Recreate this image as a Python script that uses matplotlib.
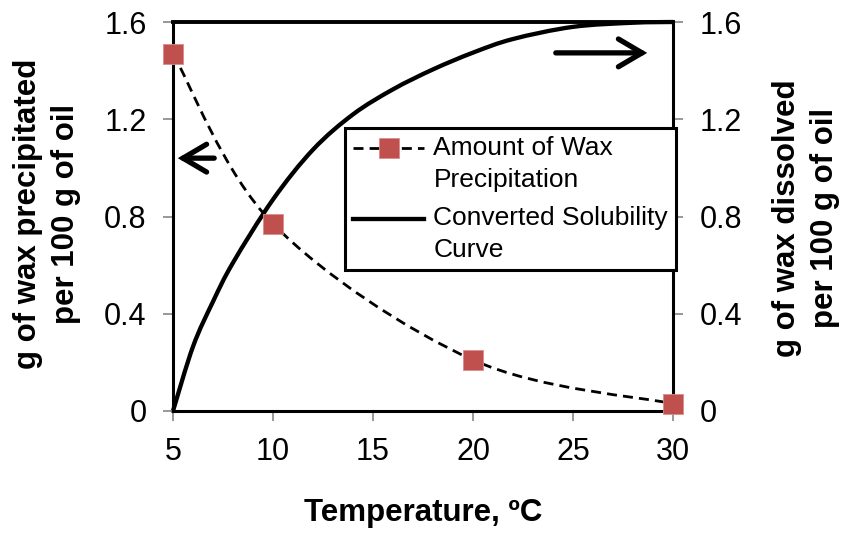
import matplotlib
matplotlib.use("Agg")
import matplotlib.pyplot as plt
from matplotlib.path import Path
from matplotlib.patches import PathPatch
from matplotlib.lines import Line2D
from matplotlib.legend_handler import HandlerLine2D

plt.rcParams['font.family'] = ['Liberation Sans', 'DejaVu Sans']

# Amount of wax precipitated (left axis)
temp_precip = [5, 10, 20, 30]
wax_precip = [1.47, 0.77, 0.21, 0.03]

# Converted solubility curve (right axis)
temp_sol = [5, 6, 7, 8, 10, 12, 14, 16, 18, 20, 22, 25, 28, 30]
wax_sol = [0.00, 0.265, 0.45, 0.61, 0.87, 1.075, 1.22, 1.323, 1.405,
           1.474, 1.53, 1.58, 1.597, 1.60]

x_ticks = [5, 10, 15, 20, 25, 30]
y_ticks = [0, 0.4, 0.8, 1.2, 1.6]
y_tick_labels = ['0', '0.4', '0.8', '1.2', '1.6']

label_precip = 'Amount of Wax\nPrecipitation'
label_sol = 'Converted Solubility\nCurve'
x_label = 'Temperature, ºC'
y_label_left = 'g of wax precipitated\nper 100 g of oil'
y_label_right = 'g of wax dissolved\nper 100 g of oil'

MARKER_RED = '#C0504D'
MARKER_EDGE = '#D98C8A'
TICK_GREY = '#868686'
TICK_FS = 22
LABEL_FS = 22.5
LEGEND_FS = 19
DASH = (0, (3.6, 2.2))


def smooth_path(xs, ys):
    """Smoothed (Catmull-Rom style) Bezier path through the given points."""
    pts = list(zip(xs, ys))
    n = len(pts)
    verts = [pts[0]]
    codes = [Path.MOVETO]
    for i in range(n - 1):
        p0 = pts[i - 1] if i > 0 else pts[i]
        p1 = pts[i]
        p2 = pts[i + 1]
        p3 = pts[i + 2] if i + 2 < n else pts[i + 1]
        c1 = (p1[0] + (p2[0] - p0[0]) / 6.0, p1[1] + (p2[1] - p0[1]) / 6.0)
        c2 = (p2[0] - (p3[0] - p1[0]) / 6.0, p2[1] - (p3[1] - p1[1]) / 6.0)
        verts += [c1, c2, p2]
        codes += [Path.CURVE4] * 3
    return Path(verts, codes)


class HandlerFirstLine(HandlerLine2D):
    """Line handler that lines the sample up with the first label line."""

    def __init__(self, shift, **kw):
        super().__init__(**kw)
        self._shift = shift

    def create_artists(self, legend, orig_handle, xdescent, ydescent,
                       width, height, fontsize, trans):
        artists = super().create_artists(legend, orig_handle, xdescent,
                                          ydescent, width, height,
                                          fontsize, trans)
        for a in artists:
            a.set_ydata([y + self._shift * fontsize for y in a.get_ydata()])
        return artists


fig = plt.figure(figsize=(8.43, 5.38), dpi=100)
ax = fig.add_axes([173 / 843, 1 - 411 / 538, 500 / 843, 389 / 538])
ax2 = ax.twinx()

# left axis on top so its markers sit above everything
ax.set_zorder(ax2.get_zorder() + 1)
ax.patch.set_visible(False)

ax.add_patch(PathPatch(smooth_path(temp_precip, wax_precip), fill=False,
                       edgecolor='black', linewidth=2.0, linestyle=DASH,
                       clip_on=False, zorder=3))
ax.plot(temp_precip, wax_precip, linestyle='none', marker='s',
        markersize=14.5, markerfacecolor=MARKER_RED,
        markeredgecolor=MARKER_EDGE, markeredgewidth=0.6,
        clip_on=False, zorder=5)

ax2.add_patch(PathPatch(smooth_path(temp_sol, wax_sol), fill=False,
                        edgecolor='black', linewidth=3.1,
                        capstyle='round', clip_on=False))

for a in (ax, ax2):
    a.set_xlim(5, 30)
    a.set_ylim(0, 1.6)
    a.set_yticks(y_ticks)
    a.set_yticklabels(y_tick_labels)

ax.set_xticks(x_ticks)
ax.tick_params(axis='both', direction='out', length=7, width=1.2,
               color=TICK_GREY, labelsize=TICK_FS, pad=12)
ax2.tick_params(axis='y', direction='out', length=7, width=1.2,
                color=TICK_GREY, labelsize=TICK_FS, pad=12)

for sp in ax.spines.values():
    sp.set_color('black')
    sp.set_linewidth(2.2)
ax.spines['top'].set_linewidth(2.8)
for sp in ax2.spines.values():
    sp.set_visible(False)

ax.set_xlabel(x_label, fontsize=LABEL_FS, fontweight='bold', labelpad=22)
ax.set_ylabel(y_label_left, fontsize=LABEL_FS, fontweight='bold',
              va='center', ha='center', linespacing=1.37)
ax.yaxis.set_label_coords(-0.252, 0.506)
ax2.set_ylabel(y_label_right, fontsize=LABEL_FS, fontweight='bold',
               va='center', ha='center', rotation=90, linespacing=1.37)
ax2.yaxis.set_label_coords(1.266, 0.496)

# direction arrows pointing to each curve's axis
arrow_kw = dict(arrowstyle='->,head_length=0.85,head_width=0.5',
                mutation_scale=20, lw=3.8, color='black',
                capstyle='round', joinstyle='miter')
ax.annotate('', xy=(5.1, 1.04), xytext=(7.2, 1.04),
            arrowprops=arrow_kw, annotation_clip=False)
ax.annotate('', xy=(28.85, 1.473), xytext=(24.0, 1.473),
            arrowprops=arrow_kw, annotation_clip=False)

handles = [
    Line2D([], [], color='black', linewidth=2.0, linestyle=DASH, marker='s',
           markersize=14.5, markerfacecolor=MARKER_RED,
           markeredgecolor=MARKER_EDGE, markeredgewidth=0.6),
    Line2D([], [], color='black', linewidth=3.1),
]
leg = ax.legend(handles, [label_precip, label_sol], loc='upper left',
                bbox_to_anchor=(0.344, 0.7275), borderaxespad=0,
                fontsize=LEGEND_FS, frameon=True, fancybox=False,
                framealpha=1, edgecolor='black', handlelength=2.7,
                handletextpad=0.35, borderpad=0.3, labelspacing=0.55,
                numpoints=1, handler_map={Line2D: HandlerFirstLine(0.59)})
leg.get_frame().set_linewidth(2.2)
for t in leg.get_texts():
    t.set_linespacing(1.4)

fig.savefig('out.png', dpi=100)
